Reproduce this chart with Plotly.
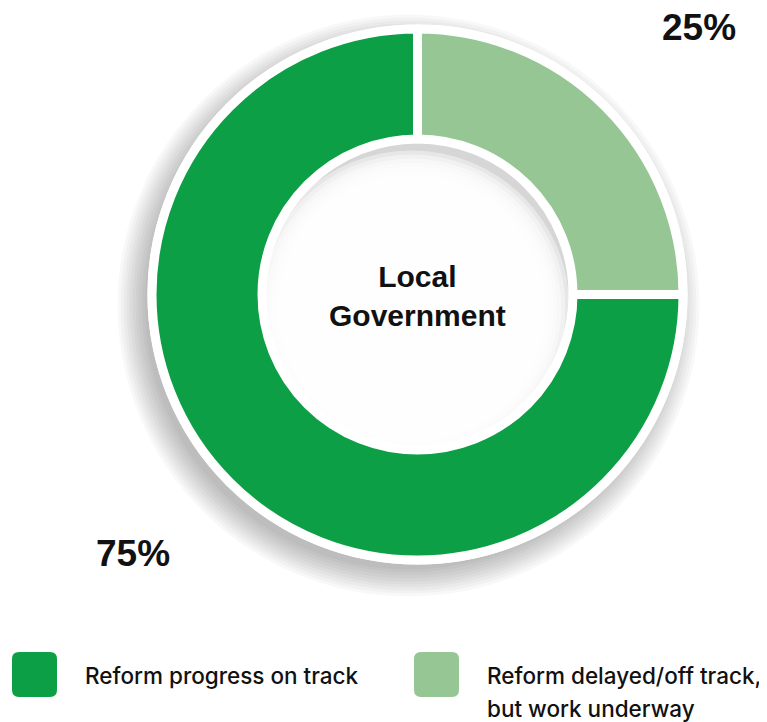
import plotly.graph_objects as go

# ---- data ----
categories = ["Reform progress on track", "Reform delayed/off track, but work underway"]
values = [75, 25]
colors = ["#0c9f45", "#95c694"]
legend_lines = [["Reform progress on track"], ["Reform delayed/off track,", "but work underway"]]
center_title = "Local<br>Government"

OFF = 8  # page body margin
W, H = 767 - OFF, 722 - OFF
CX, CY = 417.5, 294.5


def fx(px):
    return (px - OFF) / W


def fy(py):
    return 1 - (py - OFF) / H


def dom(cx, cy, r):
    return dict(x=[fx(cx - r), fx(cx + r)], y=[fy(cy + r), fy(cy - r)])


def disk(cx, cy, r, color):
    return go.Pie(values=[1], labels=["d"], domain=dom(cx, cy, r), marker=dict(colors=[color], line=dict(width=0)),
                  textinfo="none", hoverinfo="skip", showlegend=False, sort=False)


fig = go.Figure()

# soft drop shadow (down-left)
for k in range(10):
    fig.add_trace(disk(CX - 9, CY + 11, 264 + 3 * k, "rgba(0,0,0,0.026)"))
# white ring behind donut
fig.add_trace(disk(CX, CY, 270, "#ffffff"))
# inner (inset) shadow in the hole
fig.add_trace(disk(CX, CY, 152, "#d6d6d6"))
for k in range(11):
    fig.add_trace(disk(CX - 6, CY + 14, 158 - 4 * k, "rgba(255,255,255,0.42)"))

# main donut
R_OUT = 265.5
R_IN = 155.5
fig.add_trace(go.Pie(
    labels=categories, values=values, sort=False, direction="clockwise", rotation=90,
    hole=R_IN / R_OUT, domain=dom(CX, CY, R_OUT),
    marker=dict(colors=colors, line=dict(color="#ffffff", width=9)),
    textinfo="none", hoverinfo="label+percent", showlegend=False,
))

annotations = []
# center title
annotations.append(dict(x=fx(CX), y=fy(296), xref="paper", yref="paper", text=center_title, showarrow=False,
                        font=dict(family="Liberation Sans", size=30, color="#111111", weight="bold"),
                        xanchor="center", yanchor="middle"))
# percentage labels
pct_pos = [(133, 553), (699, 27)]
for v, (px, py) in zip(values, pct_pos):
    annotations.append(dict(x=fx(px), y=fy(py), xref="paper", yref="paper", text=f"{v}%", showarrow=False,
                            font=dict(family="Liberation Sans", size=37, color="#111111", weight="bold"),
                            xanchor="center", yanchor="middle"))

# legend
shapes = []
leg_x = [12, 414]
sq_top, sq_bot, sq = 652, 697, 45
rr = 7
for i, (lines, col) in enumerate(zip(legend_lines, colors)):
    x0, x1 = leg_x[i], leg_x[i] + sq
    y0, y1 = sq_top, sq_bot

    def P(x, y):
        return f"{fx(x):.5f},{fy(y):.5f}"

    path = (f"M {P(x0 + rr, y0)} L {P(x1 - rr, y0)} Q {P(x1, y0)} {P(x1, y0 + rr)} "
            f"L {P(x1, y1 - rr)} Q {P(x1, y1)} {P(x1 - rr, y1)} L {P(x0 + rr, y1)} "
            f"Q {P(x0, y1)} {P(x0, y1 - rr)} L {P(x0, y0 + rr)} Q {P(x0, y0)} {P(x0 + rr, y0)} Z")
    shapes.append(dict(type="path", path=path, xref="paper", yref="paper", fillcolor=col, line=dict(width=0)))
    for j, line in enumerate(lines):
        annotations.append(dict(x=fx(x1 + 26), y=fy(675 + 33 * j), xref="paper", yref="paper", text=line,
                                showarrow=False, xanchor="left", yanchor="middle",
                                font=dict(family="Inter", size=22.5, color="#111111", weight=500)))

fig.update_layout(width=W, height=H, margin=dict(l=0, r=0, t=0, b=0), paper_bgcolor="#ffffff",
                  plot_bgcolor="#ffffff", annotations=annotations, shapes=shapes, showlegend=False)

fig.write_html("out.html")
